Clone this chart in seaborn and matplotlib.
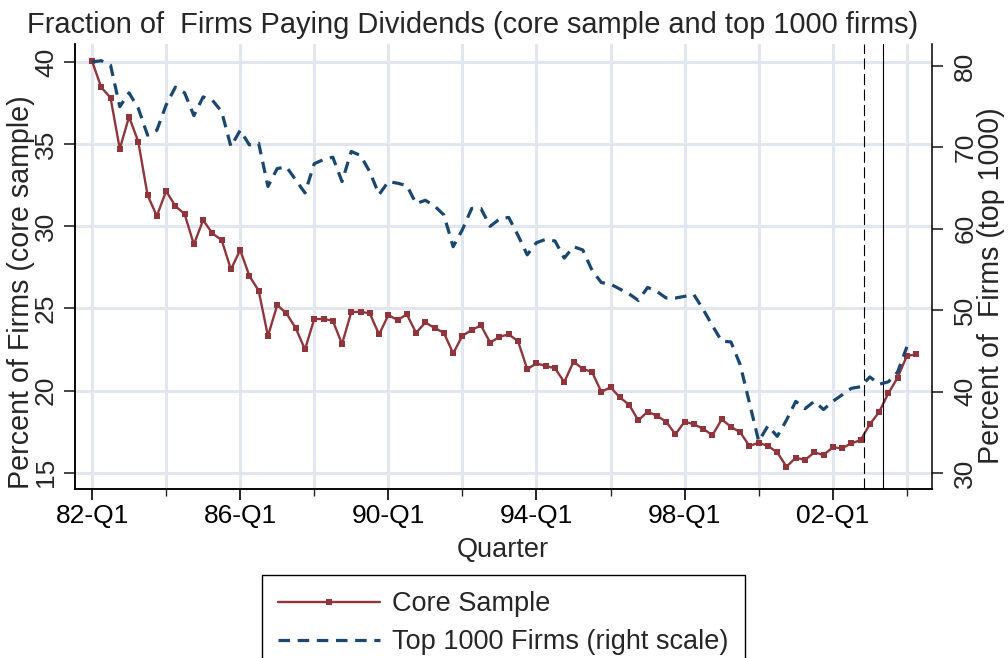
import numpy as np
import pandas as pd
import matplotlib
matplotlib.use("Agg")
import matplotlib.pyplot as plt
from matplotlib.lines import Line2D
import seaborn as sns

# ---------------- data ----------------
quarter_tick_labels = ["82-Q1", "86-Q1", "90-Q1", "94-Q1", "98-Q1", "02-Q1"]

core_sample = [40.06, 38.46, 37.83, 34.72, 36.67, 35.15, 31.90, 30.63, 32.15, 31.24,
               30.75, 28.90, 30.38, 29.57, 29.17, 27.38, 28.56, 26.98, 26.08, 23.32,
               25.21, 24.70, 23.80, 22.51, 24.36, 24.36, 24.26, 22.84, 24.78, 24.80,
               24.70, 23.42, 24.60, 24.30, 24.64, 23.52, 24.15, 23.81, 23.52, 22.27,
               23.34, 23.69, 23.97, 22.92, 23.28, 23.42, 23.02, 21.31, 21.66, 21.50,
               21.36, 20.52, 21.76, 21.33, 21.13, 19.93, 20.20, 19.59, 19.14, 18.19,
               18.72, 18.47, 18.11, 17.34, 18.11, 17.95, 17.68, 17.28, 18.25, 17.80,
               17.46, 16.63, 16.83, 16.63, 16.24, 15.37, 15.92, 15.78, 16.24, 16.08,
               16.55, 16.49, 16.79, 16.99, 17.95, 18.70, 19.84, 20.79, 22.12, 22.20]

top1000 = [80.5, 80.65, 80.1, 75.0, 76.7, 74.8, 71.5, 72.1, 75.2, 77.4,
           76.7, 73.9, 76.2, 75.8, 74.4, 70.1, 72.1, 70.3, 70.5, 65.2,
           67.4, 67.6, 66.0, 64.4, 68.0, 68.5, 68.8, 65.8, 69.5, 69.0,
           67.0, 64.2, 65.8, 65.6, 65.3, 63.1, 63.5, 62.8, 61.7, 57.8,
           59.9, 62.5, 62.5, 60.3, 61.2, 61.4, 59.2, 56.8, 58.3, 58.7,
           58.5, 56.4, 57.8, 57.4, 54.9, 53.4, 53.2, 52.6, 52.0, 51.2,
           52.8, 52.3, 51.5, 51.5, 51.7, 51.9, 50.1, 48.1, 46.2, 46.1,
           43.3, 38.6, 33.9, 35.8, 34.5, 36.5, 38.8, 37.9, 38.8, 37.8,
           38.8, 39.6, 40.4, 40.6, 41.8, 40.9, 41.2, 42.4, 45.5]

event_quarters = [83.4, 85.4]   # vertical reference lines (quarters since 82-Q1)

title = "Fraction of  Firms Paying Dividends (core sample and top 1000 firms)"
left_label = "Percent of Firms (core sample)"
right_label = "Percent of  Firms (top 1000)"
x_label = "Quarter"
legend_labels = ["Core Sample", "Top 1000 Firms (right scale)"]

# ---------------- style ----------------
sns.set_theme(style="white")
plt.rcParams['font.family'] = ['Liberation Sans', 'DejaVu Sans']

maroon = "#90353B"
navy = "#1A476F"
grid_c = "#E1E6EF"
fs_title = 20.9
fs_lab = 20.6
fs_tick = 19
fs_leg = 19.5

df_core = pd.DataFrame({"q": np.arange(len(core_sample)), "v": core_sample})
df_top = pd.DataFrame({"q": np.arange(len(top1000)), "v": top1000})

fig = plt.figure(figsize=(10.08, 6.58), dpi=100)
ax = fig.add_axes([0.0741, 0.2568, 0.8502, 0.6763])
ax2 = ax.twinx()

sns.lineplot(data=df_core, x="q", y="v", ax=ax, color=maroon, lw=1.7,
             marker="s", markersize=3.8, markeredgewidth=0, legend=False)
sns.lineplot(data=df_top, x="q", y="v", ax=ax2, color=navy, lw=2.3,
             linestyle=(0, (3.6, 2.4)), legend=False)

for xq, ls in zip(event_quarters, [(0, (10, 4)), "-"]):
    ax.axvline(xq, color="black", lw=0.8, ls=ls, zorder=3)

# axes ranges
ax.set_xlim(-1.87, 90.68)
ax.set_ylim(14.01, 41.10)
ax2.set_ylim(28.03, 82.70)

# ticks
major_x = np.arange(0, 81, 16)
minor_x = np.arange(8, 89, 16)
ax.set_xticks(major_x)
ax.set_xticklabels(quarter_tick_labels)
ax.set_xticks(minor_x, minor=True)
ax.set_yticks([15, 20, 25, 30, 35, 40])
ax2.set_yticks([30, 40, 50, 60, 70, 80])

ax.tick_params(axis="x", which="major", length=8, width=1.2, direction="out",
               labelsize=fs_tick, pad=3, colors="black", bottom=True)
ax.tick_params(axis="x", which="minor", length=5, width=1.0, direction="out", bottom=True)
ax.tick_params(axis="y", length=8, width=1.2, direction="out", labelsize=fs_tick,
               labelrotation=90, pad=4, left=True)
ax2.tick_params(axis="y", length=8, width=1.2, direction="out", labelsize=fs_tick,
                labelrotation=90, pad=7.5, right=True)
for lab in ax.get_yticklabels():
    lab.set_va("center")
for lab in ax2.get_yticklabels():
    lab.set_va("center")

# grid
ax.grid(True, axis="y", which="major", color=grid_c, lw=2.2)
ax.grid(True, axis="x", which="both", color=grid_c, lw=2.2)
ax.set_axisbelow(True)
ax2.grid(False)

for a in (ax, ax2):
    a.spines["top"].set_visible(False)
    for s in ("left", "right", "bottom"):
        a.spines[s].set_color("black")
        a.spines[s].set_linewidth(1.1)
ax.spines["right"].set_visible(False)

ax.set_xlabel(x_label, fontsize=fs_leg, labelpad=6)
ax.set_ylabel(left_label, fontsize=fs_lab)
ax2.set_ylabel(right_label, fontsize=fs_lab, rotation=90)
ax.yaxis.set_label_coords(-0.0458, 0.4416)
ax2.yaxis.set_label_coords(1.0525, 0.458)

fig.text(473 / 1008, 1 - 25 / 658, title, ha="center", va="center", fontsize=fs_title)

handles = [Line2D([], [], color=maroon, lw=1.7, marker="s", markersize=3.8,
                  markeredgewidth=0),
           Line2D([], [], color=navy, lw=2.3, linestyle=(0, (3.6, 2.4)))]
leg = fig.legend(handles, legend_labels, loc="upper left",
                 bbox_to_anchor=(262 / 1008, 1 - 575 / 658), fontsize=fs_leg,
                 frameon=True, fancybox=False, edgecolor="black", framealpha=1,
                 handlelength=3.75, handletextpad=0.45, labelspacing=0.44,
                 borderpad=0.6, borderaxespad=0)
leg.get_frame().set_linewidth(1.0)

fig.savefig("out.png", dpi=100)
